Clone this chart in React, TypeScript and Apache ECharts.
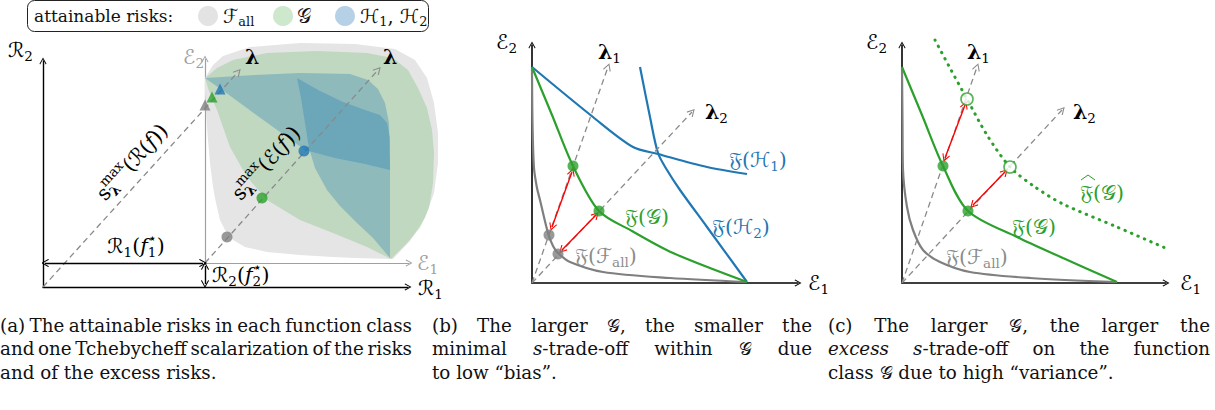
import React, { useEffect, useRef } from "react";
import * as echarts from "echarts";

const WIDTH = 1215;
const HEIGHT = 410;

const SERIF = "'DejaVu Serif', serif";
const MATH = "'DejaVu Serif', 'DejaVu Sans', 'Noto Sans', serif";

const GRAY = "#7f7f7f";
const GREEN = "#2ca02c";
const BLUE = "#1f77b4";
const RED = "#ff0000";
const DASH = "#8a8a8a";

// ---------------- panel (a): excess-risk plane (units: offsets from the E origin) -------------
const regionFall = [
  [0, 185], [8, 198], [18, 207], [45, 216], [95, 220], [150, 219], [190, 214], [210, 203],
  [222, 185], [229, 160], [233, 130], [233, 100], [229, 70], [220, 45], [205, 22], [188, 4],
  [150, 5], [128, 6], [95, 8], [62, 11], [40, 16], [28, 23], [20, 33], [15, 43], [11, 60],
  [8, 76], [5, 100], [3, 123], [1, 150], [0, 170],
];
const regionG = [
  [0, 185], [12, 195], [28, 203], [62, 210], [112, 212], [162, 210], [188, 205], [203, 193],
  [213, 175], [222, 155], [227, 133], [229, 110], [228, 80], [224, 55], [215, 35], [202, 20],
  [186, 4], [162, 16], [128, 30], [95, 43], [62, 63], [42, 86], [25, 116], [12, 153], [4, 172],
];
const regionH1 = [
  [0, 185], [50, 188], [95, 190], [145, 189], [163, 183], [173, 174], [180, 160], [184, 140],
  [185, 93], [160, 99], [130, 105], [100, 113], [50, 149], [20, 171],
];
const regionH2 = [
  [92, 185], [115, 172], [138, 161], [160, 153], [175, 148], [182, 140], [185, 125], [185, 93],
  [185, 5], [168, 25], [152, 40], [135, 57], [122, 73], [110, 95], [104, 115], [100, 140], [96, 165],
];
const excessPoints = [[22, 26], [57, 65], [99, 112]];
const excessPointColors = [GRAY, GREEN, BLUE];
const lambdaE = [[0, 0], [173, 193]];

// risk plane (units: offsets from the R origin)
const riskTriangles = [[162, 182], [169, 190], [177, 198]];
const riskTriangleColors = [GRAY, GREEN, BLUE];
const lambdaR = [[0, 0], [195, 215]];
const offsetR1 = [[2, 24], [160, 24]];
const offsetR2 = [[162, 21], [162, 3]];

// ---------------- panel (b) ----------------
const bFall = [[0, 216], [0.5, 160], [2, 115], [5, 95], [8, 83], [16, 50], [21, 37], [26, 30], [38, 21], [71, 11], [138, 5], [215, 1]];
const bG = [[0, 216], [20, 168], [41, 117], [67, 72], [100, 52], [141, 30], [215, 1]];
const bH1 = [[0, 216], [61, 166], [101, 136], [126, 129], [175, 116], [215, 109]];
const bH2 = [[108, 216], [118, 166], [126, 130], [135, 113], [148, 93], [175, 56], [215, 1]];
const bLambda1 = [[0, 0], [76, 216]];
const bLambda2 = [[0, 0], [160, 171]];
const bGreenPts = [[41, 117], [67, 72]];
const bGrayPts = [[17, 48], [26, 29]];
const bArrows = [[[20, 56], [40, 111]], [[30, 33], [64, 68]]];

// ---------------- panel (c) ----------------
const cFall = [[0, 216], [0.5, 160], [1, 113], [5, 76], [11, 53], [21, 33], [38, 21], [68, 11], [128, 5], [215, 1]];
const cG = [[0, 216], [20, 168], [41, 117], [66, 72], [115, 46], [161, 25], [215, 1]];
const cGhat = [[33, 243], [48, 215], [65, 184], [85, 148], [108, 116], [133, 96], [161, 79], [215, 56], [268, 33]];
const cLambda1 = [[0, 0], [75, 216]];
const cLambda2 = [[0, 0], [160, 173]];
const cGreenPts = [[41, 117], [66, 72]];
const cOpenPts = [[65, 184], [108, 116]];
const cArrows = [[[43, 125], [63, 178]], [[71, 78], [103, 111]]];

// captions
const captionA = [
  "(a) The attainable risks in each function class",
  "and one Tchebycheff scalarization of the risks",
  "and of the excess risks.",
];
const captionB = [
  "(b) The larger 𝒢, the smaller the",
  "minimal _s_-trade-off within 𝒢 due",
  "to low “bias”.",
];
const captionC = [
  "(c) The larger 𝒢, the larger the",
  "_excess_ _s_-trade-off on the function",
  "class 𝒢 due to high “variance”.",
];

const CHEVRON = "path://M5,0 L10,9 L9,10 L5,2.6 L1,10 L0,9 Z";

// ---------- text helpers ----------
let ctx: CanvasRenderingContext2D | null = null;
function fontStr(size: number, fam: string, style = "normal", weight = "normal") {
  return `${style} ${weight} ${size}px ${fam}`;
}
function measure(t: string, size: number, fam: string, style = "normal", weight = "normal") {
  if (!ctx) ctx = document.createElement("canvas").getContext("2d");
  ctx!.font = fontStr(size, fam, style, weight);
  return ctx!.measureText(t).width;
}
type K = { fam: string; k: number; dy: number; style?: string; weight?: string };
const KIND: Record<string, K> = {
  r: { fam: SERIF, k: 1, dy: 0 },
  i: { fam: SERIF, k: 1, dy: 0, style: "italic" },
  b: { fam: SERIF, k: 1, dy: 0, weight: "bold" },
  m: { fam: MATH, k: 1, dy: 0 },
  s: { fam: SERIF, k: 0.66, dy: 0.3 },
  sb: { fam: SERIF, k: 0.66, dy: 0.3, weight: "bold" },
  u: { fam: SERIF, k: 0.66, dy: -0.38 },
};
type Seg = [string, string, boolean?];
function typeset(segs: Seg[], size: number) {
  let x = 0, prevX = 0, prevW = 0;
  const items: any[] = [];
  for (const [t, kind, stack] of segs) {
    const Kd = KIND[kind];
    const fs = Math.round(size * Kd.k * 10) / 10;
    const w = measure(t, fs, Kd.fam, Kd.style, Kd.weight);
    let sx;
    if (stack) {
      sx = prevX; prevW = Math.max(prevW, w); x = prevX + prevW;
    } else {
      sx = x; prevX = x; prevW = w; x += w;
    }
    items.push({ t, sx, dy: Kd.dy * size, fs, Kd });
  }
  return { items, width: x };
}
function label(x: number, y: number, segs: Seg[], size: number, color: string, align = "left", rotation = 0) {
  const { items, width } = typeset(segs, size);
  const shift = align === "center" ? -width / 2 : align === "right" ? -width : 0;
  return {
    type: "group", x, y, rotation, z: 100,
    children: items.map((it) => ({
      type: "text", x: it.sx + shift, y: it.dy, z: 100,
      style: {
        text: it.t,
        font: fontStr(it.fs, it.Kd.fam, it.Kd.style, it.Kd.weight),
        fill: color, align: "left", verticalAlign: "middle",
      },
    })),
  };
}
function parseWord(w: string): Seg[] {
  const segs: Seg[] = [];
  let italic = false, buf = "";
  const flush = () => { if (buf) { segs.push([buf, italic ? "i" : "r"]); buf = ""; } };
  for (const ch of w) {
    if (ch === "_") { flush(); italic = !italic; }
    else if (ch === "𝒢") { flush(); segs.push([ch, "m"]); }
    else buf += ch;
  }
  flush();
  return segs;
}
function caption(lines: string[], x0: number, width: number, y0: number, lh: number, size: number) {
  const els: any[] = [];
  lines.forEach((line, li) => {
    const words = line.split(" ").map(parseWord);
    const ws = words.map((s) => typeset(s, size).width);
    const justify = li < lines.length - 1;
    const gap = justify ? (width - ws.reduce((a, b) => a + b, 0)) / (words.length - 1) : measure(" ", size, SERIF);
    let x = x0;
    words.forEach((segs, wi) => { els.push(label(x, y0 + li * lh, segs, size, "#111")); x += ws[wi] + gap; });
  });
  return els;
}

// ---------- series helpers ----------
const poly = (pts: number[][], fill: string, g: number) => ({
  type: "custom", xAxisIndex: g, yAxisIndex: g, clip: false, silent: true, z: 1, data: pts,
  renderItem: (params: any, api: any) =>
    params.dataIndex === 0
      ? { type: "polygon", shape: { points: pts.map((p) => api.coord(p)) }, style: { fill } }
      : null,
});
const curve = (pts: number[][], color: string, g: number, extra: any = {}) => ({
  type: "line", xAxisIndex: g, yAxisIndex: g, data: pts, showSymbol: false, symbol: "none",
  smooth: 0.3, clip: false, silent: true, z: 3, lineStyle: { color, width: 2.2 }, ...extra,
});
const arrows = (segs: number[][][], color: string, g: number, both: boolean, dashed: boolean, width = 1.3, size = 8) => ({
  type: "lines", coordinateSystem: "cartesian2d", xAxisIndex: g, yAxisIndex: g, silent: true, z: 4,
  data: segs.map((s) => ({ coords: s })),
  symbol: [both ? CHEVRON : "none", CHEVRON], symbolSize: size,
  lineStyle: { color, width, type: dashed ? [6, 4] : "solid", opacity: 1, curveness: 0 },
});
const dots = (pts: number[][], colors: string[], g: number, symbol = "circle", size = 11) => ({
  type: "scatter", xAxisIndex: g, yAxisIndex: g, silent: true, z: 6, symbol, symbolSize: size,
  data: pts.map((p, i) => ({ value: p, itemStyle: { color: colors[i % colors.length] } })),
});

function buildOption() {
  const grids = [
    { left: 43, top: 61, width: 365, height: 226 },
    { left: 205, top: 59, width: 204, height: 204 },
    { left: 532, top: 45, width: 266, height: 238 },
    { left: 902, top: 45, width: 264, height: 238 },
  ];
  const axisColor = ["#000", "#a0a0a0", "#000", "#000"];
  const axisWidth = [1.4, 1.2, 1.6, 1.6];
  const ax = (i: number, max: number) => ({
    type: "value", gridIndex: i, min: 0, max,
    axisLine: { show: true, onZero: false, lineStyle: { color: axisColor[i], width: axisWidth[i] }, symbol: ["none", CHEVRON], symbolSize: [9, 7] },
    axisTick: { show: false }, axisLabel: { show: false }, splitLine: { show: false },
  });

  const series: any[] = [
    // panel (a)
    poly(regionFall, "#e5e5e5", 1),
    poly(regionG, "rgba(44,160,44,0.2)", 1),
    poly(regionH1, "rgba(31,119,180,0.3)", 1),
    poly(regionH2, "rgba(31,119,180,0.3)", 1),
    arrows([lambdaE], DASH, 1, false, true),
    arrows([lambdaR], DASH, 0, false, true),
    arrows([offsetR1, offsetR2], "#000", 0, true, false, 1.4, 8),
    dots(excessPoints, excessPointColors, 1),
    dots(riskTriangles, riskTriangleColors, 0, "triangle", 11),
    // panel (b)
    arrows([bLambda1, bLambda2], DASH, 2, false, true),
    curve(bFall, GRAY, 2),
    curve(bH1, BLUE, 2),
    curve(bH2, BLUE, 2),
    curve(bG, GREEN, 2),
    arrows(bArrows, RED, 2, true, false, 1.4, 8),
    dots(bGreenPts, [GREEN], 2),
    dots(bGrayPts, [GRAY], 2),
    // panel (c)
    arrows([cLambda1, cLambda2], DASH, 3, false, true),
    curve(cFall, GRAY, 3),
    curve(cG, GREEN, 3),
    curve(cGhat, GREEN, 3, { lineStyle: { color: GREEN, width: 3, type: [0.5, 6.5], cap: "round" } }),
    arrows(cArrows, RED, 3, true, false, 1.4, 8),
    dots(cGreenPts, [GREEN], 3),
    {
      ...dots(cOpenPts, [GREEN], 3, "circle", 12),
      data: cOpenPts.map((p) => ({ value: p, itemStyle: { color: "#fff", borderColor: GREEN, borderWidth: 1.6 } })),
    },
  ];

  const S = 20.5;
  const CAP = 18.3;
  const graphic: any[] = [
    // legend
    { type: "rect", z: 90, shape: { x: 27.5, y: 0.5, width: 401, height: 31, r: 7 }, style: { fill: "#fff", stroke: "#222", lineWidth: 1 } },
    label(34, 16, [["attainable risks:", "r"]], 17, "#111"),
    { type: "circle", z: 95, shape: { cx: 208, cy: 16, r: 10 }, style: { fill: "#e3e3e3" } },
    { type: "circle", z: 95, shape: { cx: 283, cy: 16, r: 10 }, style: { fill: "#cde8cc" } },
    { type: "circle", z: 95, shape: { cx: 345, cy: 16, r: 10 }, style: { fill: "#b6d1e6" } },
    label(223, 16, [["ℱ", "m"], ["all", "s"]], 19.5, "#111"),
    label(297, 16, [["𝒢", "m"]], 19.5, "#111"),
    label(360, 16, [["ℋ", "m"], ["1", "s"], [", ", "r"], ["ℋ", "m"], ["2", "s"]], 19.5, "#111"),
    // panel (a) labels
    label(8, 50, [["ℛ", "m"], ["2", "s"]], S, "#000"),
    label(418, 288, [["ℛ", "m"], ["1", "s"]], S, "#000"),
    label(204, 57, [["ℰ", "m"], ["2", "s"]], S, "#a0a0a0", "right"),
    label(417, 263, [["ℰ", "m"], ["1", "s"]], S, "#a0a0a0"),
    label(245, 57, [["λ", "b"]], S, "#000"),
    label(383, 57, [["λ", "b"]], S, "#000"),
    label(136, 246, [["ℛ", "m"], ["1", "s"], ["(", "r"], ["f", "i"], ["⋆", "u"], ["1", "s", true], [")", "r"]], S, "#000", "center"),
    label(212, 275, [["ℛ", "m"], ["2", "s"], ["(", "r"], ["f", "i"], ["⋆", "u"], ["2", "s", true], [")", "r"]], S, "#000"),
    label(132, 162, [["s", "r"], ["max", "u"], ["λ", "sb", true], ["(", "r"], ["ℛ", "m"], ["(", "r"], ["f", "i"], [")", "r"], [")", "r"]], S, "#000", "center", 0.834),
    label(266, 163, [["s", "r"], ["max", "u"], ["λ", "sb", true], ["(", "r"], ["ℰ", "m"], ["(", "r"], ["f", "i"], [")", "r"], [")", "r"]], S, "#000", "center", 0.84),
    // panel (b) labels
    label(496, 42, [["ℰ", "m"], ["2", "s"]], S, "#000"),
    label(808, 283, [["ℰ", "m"], ["1", "s"]], S, "#000"),
    label(598, 52, [["λ", "b"], ["1", "s"]], S, "#000"),
    label(705, 112, [["λ", "b"], ["2", "s"]], S, "#000"),
    label(729, 160, [["𝔉", "m"], ["(", "r"], ["ℋ", "m"], ["1", "s"], [")", "r"]], S, BLUE),
    label(712, 227, [["𝔉", "m"], ["(", "r"], ["ℋ", "m"], ["2", "s"], [")", "r"]], S, BLUE),
    label(625, 217, [["𝔉", "m"], ["(", "r"], ["𝒢", "m"], [")", "r"]], S, GREEN),
    label(575, 256, [["𝔉", "m"], ["(", "r"], ["ℱ", "m"], ["all", "s"], [")", "r"]], S, "#8c8c8c"),
    // panel (c) labels
    label(866, 42, [["ℰ", "m"], ["2", "s"]], S, "#000"),
    label(1180, 283, [["ℰ", "m"], ["1", "s"]], S, "#000"),
    label(967, 52, [["λ", "b"], ["1", "s"]], S, "#000"),
    label(1073, 112, [["λ", "b"], ["2", "s"]], S, "#000"),
    label(1080, 193, [["𝔉", "m"], ["(", "r"], ["𝒢", "m"], [")", "r"]], S, GREEN),
    { type: "polyline", z: 100, shape: { points: [[1081, 180], [1088, 175], [1095, 180]] }, style: { stroke: GREEN, lineWidth: 1, fill: "none" } },
    label(1012, 227, [["𝔉", "m"], ["(", "r"], ["𝒢", "m"], [")", "r"]], S, GREEN),
    label(946, 257, [["𝔉", "m"], ["(", "r"], ["ℱ", "m"], ["all", "s"], [")", "r"]], S, "#8c8c8c"),
    // captions
    ...caption(captionA, 0, 412, 325, 23.5, CAP),
    ...caption(captionB, 432, 380, 325, 23.5, CAP),
    ...caption(captionC, 828, 382, 325, 23.5, CAP),
  ];

  return {
    animation: false,
    backgroundColor: "#fff",
    grid: grids,
    xAxis: [ax(0, 365), ax(1, 204), ax(2, 266), ax(3, 264)],
    yAxis: [ax(0, 226), ax(1, 204), ax(2, 238), ax(3, 238)],
    series,
    graphic,
  };
}

export default function App() {
  const ref = useRef<HTMLDivElement>(null);
  useEffect(() => {
    const chart = echarts.init(ref.current!, null, { renderer: "svg", width: WIDTH, height: HEIGHT });
    chart.setOption(buildOption() as any);
    return () => chart.dispose();
  }, []);
  return <div ref={ref} style={{ position: "fixed", left: 0, top: 0, width: WIDTH, height: HEIGHT, background: "#fff" }} />;
}
